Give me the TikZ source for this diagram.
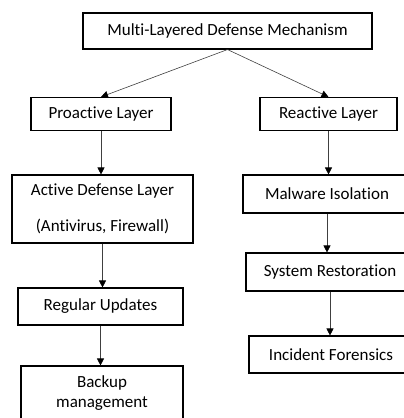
\documentclass[tikz,border=0pt]{standalone}
\usepackage{fontspec}
\setmainfont{Carlito}[Ligatures=NoCommon]
\usepackage{tikz}
\usetikzlibrary{arrows.meta}

\begin{document}
\begin{tikzpicture}[
      x = 1pt, y = -1pt,
      every node/.style = {
        draw, black, line width = 1.1pt, inner sep = 0pt, align = center,
        font = \fontsize{17}{20}\selectfont},
      link/.style = {black!75, line width = .6pt,
        -{Triangle[length=7pt, width=7pt, black]}}
      ]
    \useasboundingbox (0,0) rectangle (404,418);
    \clip (0,0) rectangle (404,418);

    \node[minimum width=289pt, minimum height=36pt] (T) at (227.5,31) {Multi-Layered Defense Mechanism}; % 0
    \node[minimum width=140pt, minimum height=33pt] (P) at (101,114) {Proactive Layer}; % 1
    \node[minimum width=137pt, minimum height=33pt] (R) at (328.5,114) {Reactive Layer}; % 2
    \node[minimum width=181pt, minimum height=68pt] (A) at (102.5,209) {Active Defense Layer\\[16pt](Antivirus, Firewall)}; % 3
    \node[minimum width=165pt, minimum height=37pt] (U) at (100.5,306.5) {Regular Updates}; % 4
    \node[minimum width=162pt, minimum height=54pt] (B) at (102,393) {Backup\\management}; % 5
    \node[minimum width=168pt, minimum height=38pt] (M) at (327,194) {Malware Isolation}; % 6
    \node[minimum width=168pt, minimum height=38pt] (S) at (330,272) {System Restoration}; % 7
    \node[minimum width=164pt, minimum height=37pt] (I) at (331,354.5) {Incident Forensics}; % 8

    \draw[link] (T.south)--(P.north);
    \draw[link] (T.south)--(R.north);
    \draw[link] (P.south)--(P.south |- A.north);
    \draw[link] (A.south)--(A.south |- U.north);
    \draw[link] (U.south)--(U.south |- B.north);
    \draw[link] (R.south)--(R.south |- M.north);
    \draw[link] (M.south)--(M.south |- S.north);
    \draw[link] (S.south)--(S.south |- I.north);
  \end{tikzpicture}
\end{document}
